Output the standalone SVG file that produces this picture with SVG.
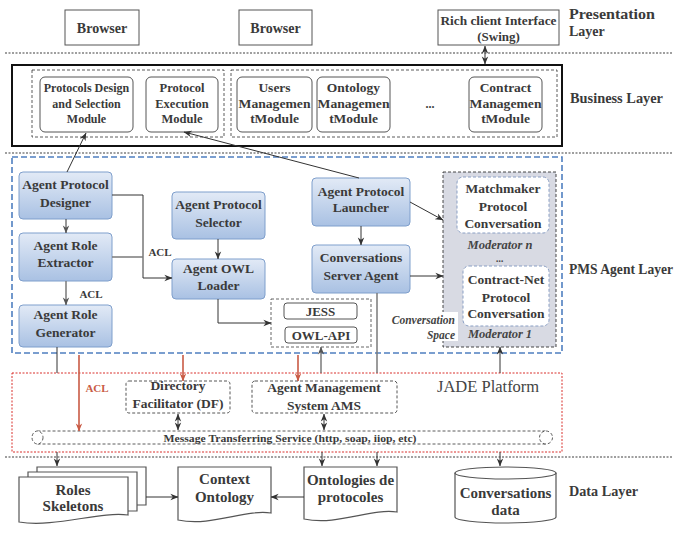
<svg xmlns="http://www.w3.org/2000/svg" width="677" height="534" viewBox="0 0 677 534">
<style>
.t{font-family:"Liberation Serif","Times New Roman",serif;font-weight:bold;fill:#3a3a3a;text-anchor:middle}
.lay{font-family:"Liberation Serif","Times New Roman",serif;font-weight:bold;fill:#3a3a3a;font-size:14px}
.box{fill:#fff;stroke:#555;stroke-width:1}
.mod{fill:#fff;stroke:#555;stroke-width:1}
.agent{fill:url(#bg);stroke:#7f9fcc;stroke-width:1}
.sep{stroke:#808080;stroke-width:1.3;stroke-dasharray:2,1.5;fill:none}
.dash{fill:none;stroke:#333;stroke-width:0.8;stroke-dasharray:3,2}
.ln{fill:none;stroke:#333;stroke-width:1}
.gl{fill:none;stroke:#7a7a7a;stroke-width:1.5}
.rl{fill:none;stroke:#c95b45;stroke-width:1.6}
.it{font-family:"Liberation Serif","Times New Roman",serif;font-weight:bold;font-style:italic;fill:#444;text-anchor:middle}
.doc{fill:#fff;stroke:#555;stroke-width:1.2}
</style>
<defs>
<linearGradient id="bg" x1="0" y1="0" x2="0" y2="1">
<stop offset="0" stop-color="#e2eaf6"/>
<stop offset="1" stop-color="#a9c1e3"/>
</linearGradient>
<marker id="ah" viewBox="0 0 10 10" refX="9.5" refY="5" markerWidth="8" markerHeight="8" markerUnits="userSpaceOnUse" orient="auto-start-reverse"><path d="M0,1 L10,5 L0,9 L3,5 z" fill="#333"/></marker>
<marker id="ahg" viewBox="0 0 10 10" refX="9.5" refY="5" markerWidth="8" markerHeight="8" markerUnits="userSpaceOnUse" orient="auto-start-reverse"><path d="M0,1 L10,5 L0,9 L3,5 z" fill="#555"/></marker>
<marker id="ahr" viewBox="0 0 10 10" refX="9.5" refY="5" markerWidth="8" markerHeight="8" markerUnits="userSpaceOnUse" orient="auto-start-reverse"><path d="M0,1 L10,5 L0,9 L3,5 z" fill="#c95b45"/></marker>
</defs>
<rect width="677" height="534" fill="#fff"/>

<!-- layer separators -->
<g id="separators">
<line class="sep" x1="5" y1="53" x2="672" y2="53"/>
<line class="sep" x1="5" y1="153" x2="672" y2="153"/>
<line class="sep" x1="5" y1="457" x2="672" y2="457"/>
</g>

<!-- layer labels -->
<g id="layer-labels">
<text class="lay" x="569" y="19" textLength="86" lengthAdjust="spacingAndGlyphs">Presentation</text>
<text class="lay" x="569" y="36">Layer</text>
<text class="lay" x="570" y="103" textLength="93" lengthAdjust="spacingAndGlyphs">Business Layer</text>
<text class="lay" x="569" y="274" textLength="104" lengthAdjust="spacingAndGlyphs">PMS Agent Layer</text>
<text class="lay" x="569" y="496" textLength="69" lengthAdjust="spacingAndGlyphs">Data Layer</text>
</g>

<!-- presentation -->
<g id="browser1"><rect class="box" x="65" y="10" width="74" height="35"/><text class="t" x="102" y="33" font-size="14">Browser</text></g>
<g id="browser2"><rect class="box" x="239" y="10" width="73" height="35"/><text class="t" x="275.5" y="33" font-size="14">Browser</text></g>
<g id="rich-client"><rect class="box" x="438" y="10" width="121" height="35"/><text class="t" x="498.5" y="25" font-size="13" textLength="116" lengthAdjust="spacingAndGlyphs">Rich client Interface</text><text class="t" x="498.5" y="41" font-size="13">(Swing)</text></g>

<!-- business layer -->
<g id="business-layer">
<rect x="12" y="65" width="550" height="81" fill="none" stroke="#111" stroke-width="2"/>
<rect class="dash" x="32" y="70" width="192" height="67"/>
<rect class="dash" x="231" y="70" width="326" height="67"/>
<text class="t" x="430" y="108" font-size="12">...</text>
</g>
<g id="mod-protocols-design"><rect class="mod" x="40" y="77" width="93" height="55" rx="5"/><text class="t" x="86.5" y="92" font-size="12">Protocols Design</text><text class="t" x="86.5" y="108" font-size="12">and Selection</text><text class="t" x="86.5" y="123" font-size="12">Module</text></g>
<g id="mod-protocol-execution"><rect class="mod" x="146" y="77" width="72" height="55" rx="5"/><text class="t" x="182" y="92" font-size="12.5">Protocol</text><text class="t" x="182" y="108" font-size="12.5">Execution</text><text class="t" x="182" y="123" font-size="12.5">Module</text></g>
<g id="mod-users"><rect class="mod" x="237" y="77" width="75" height="55" rx="5"/><text class="t" x="274.5" y="92" font-size="13.5">Users</text><text class="t" x="274.5" y="108" font-size="13.5" textLength="72" lengthAdjust="spacingAndGlyphs">Managemen</text><text class="t" x="274.5" y="123" font-size="13.5">tModule</text></g>
<g id="mod-ontology"><rect class="mod" x="317" y="77" width="73" height="55" rx="5"/><text class="t" x="353.5" y="92" font-size="13.5">Ontology</text><text class="t" x="353.5" y="108" font-size="13.5" textLength="72" lengthAdjust="spacingAndGlyphs">Managemen</text><text class="t" x="353.5" y="123" font-size="13.5">tModule</text></g>
<g id="mod-contract"><rect class="mod" x="469" y="77" width="73" height="55" rx="5"/><text class="t" x="505.5" y="92" font-size="13.5">Contract</text><text class="t" x="505.5" y="108" font-size="13.5" textLength="72" lengthAdjust="spacingAndGlyphs">Managemen</text><text class="t" x="505.5" y="123" font-size="13.5">tModule</text></g>

<!-- PMS agent layer -->
<g id="pms-layer">
<rect x="12" y="157" width="550" height="196" fill="none" stroke="#4f7fc0" stroke-width="1.6" stroke-dasharray="6,3"/>
</g>
<g id="conversation-space">
<rect x="443" y="172" width="113" height="175" fill="#d8dae3" stroke="#333" stroke-width="0.9" stroke-dasharray="3,2"/>
<rect x="383" y="312" width="75" height="29" fill="#fff"/>
<text class="it" x="455" y="324" font-size="11.5" style="text-anchor:end">Conversation</text>
<text class="it" x="455" y="339" font-size="11.5" style="text-anchor:end">Space</text>
<text class="it" x="500" y="249" font-size="12.5">Moderator n</text>
<text class="it" x="500" y="262" font-size="10">...</text>
<text class="it" x="500" y="338" font-size="12.5">Moderator 1</text>
</g>
<g id="matchmaker"><rect x="457" y="177" width="92" height="56" rx="6" fill="#fff" stroke="#8a9fc4" stroke-width="1" stroke-dasharray="3,2"/><text class="t" x="503" y="193" font-size="13.5">Matchmaker</text><text class="t" x="503" y="211" font-size="13.5">Protocol</text><text class="t" x="503" y="228" font-size="13.5">Conversation</text></g>
<g id="contract-net"><rect x="463" y="266" width="86" height="60" rx="6" fill="#fff" stroke="#8a9fc4" stroke-width="1" stroke-dasharray="3,2"/><text class="t" x="506" y="284" font-size="13.5">Contract-Net</text><text class="t" x="506" y="302" font-size="13.5">Protocol</text><text class="t" x="506" y="318" font-size="13.5">Conversation</text></g>

<g id="designer"><rect class="agent" x="19" y="172" width="93" height="47" rx="4"/><text class="t" x="65.5" y="189" font-size="13.5">Agent Protocol</text><text class="t" x="65.5" y="207" font-size="13.5">Designer</text></g>
<g id="extractor"><rect class="agent" x="19" y="233" width="93" height="48" rx="4"/><text class="t" x="65.5" y="250" font-size="13.5">Agent Role</text><text class="t" x="65.5" y="267" font-size="13.5">Extractor</text></g>
<g id="generator"><rect class="agent" x="19" y="305" width="93" height="42" rx="4"/><text class="t" x="65.5" y="319" font-size="13.5">Agent Role</text><text class="t" x="65.5" y="337" font-size="13.5">Generator</text></g>
<g id="selector"><rect class="agent" x="172" y="192" width="93" height="47" rx="4"/><text class="t" x="218.5" y="209" font-size="13.5">Agent Protocol</text><text class="t" x="218.5" y="227" font-size="13.5">Selector</text></g>
<g id="owl-loader"><rect class="agent" x="172" y="259" width="93" height="40" rx="4"/><text class="t" x="218.5" y="273" font-size="13.5">Agent OWL</text><text class="t" x="218.5" y="290" font-size="13.5">Loader</text></g>
<g id="launcher"><rect class="agent" x="312" y="178" width="98" height="48" rx="4"/><text class="t" x="361" y="196" font-size="13.5">Agent Protocol</text><text class="t" x="361" y="212" font-size="13.5">Launcher</text></g>
<g id="server-agent"><rect class="agent" x="312" y="245" width="98" height="48" rx="4"/><text class="t" x="361" y="262" font-size="13.5">Conversations</text><text class="t" x="361" y="280" font-size="13.5">Server Agent</text></g>

<g id="libs">
<rect x="271" y="299" width="100" height="48" fill="#fff" stroke="#555" stroke-width="0.9" stroke-dasharray="3,2"/>
<rect x="284" y="303" width="73" height="16" rx="3" fill="#fff" stroke="#555"/>
<text class="t" x="320.5" y="315.5" font-size="13">JESS</text>
<rect x="285" y="327" width="72" height="16" rx="3" fill="#fff" stroke="#555"/>
<text class="t" x="321" y="339.5" font-size="13">OWL-API</text>
</g>

<!-- JADE -->
<g id="jade-platform">
<rect x="12" y="373" width="550" height="79" fill="none" stroke="#d9302c" stroke-width="1" stroke-dasharray="2,1.5"/>
<text x="437" y="392" font-family="'Liberation Serif','Times New Roman',serif" font-size="16.5" fill="#444">JADE Platform</text>
</g>
<g id="df"><rect x="126" y="381" width="104" height="32" rx="3" fill="#fff" stroke="#444" stroke-width="0.9" stroke-dasharray="3,2"/><text class="t" x="178" y="390" font-size="13.5">Directory</text><text class="t" x="178" y="408" font-size="13.5">Facilitator (DF)</text></g>
<g id="ams"><rect x="252" y="381" width="145" height="32" rx="3" fill="#fff" stroke="#444" stroke-width="0.9" stroke-dasharray="3,2"/><text class="t" x="324" y="392" font-size="13.5">Agent Management</text><text class="t" x="324" y="410" font-size="13.5">System AMS</text></g>
<g id="message-bus">
<path d="M37.5,431 H546 M37.5,444 H546" class="dash"/>
<ellipse cx="37.5" cy="437.5" rx="5.5" ry="6.5" fill="#fff" stroke="#333" stroke-width="0.8" stroke-dasharray="3,2"/>
<ellipse cx="546" cy="437.5" rx="6.5" ry="6.5" fill="#fff" stroke="#333" stroke-width="0.8" stroke-dasharray="3,2"/>
<text class="t" x="290" y="442" font-size="10" textLength="253" lengthAdjust="spacingAndGlyphs">Message Transferring Service (http,  soap, iiop, etc)</text>
</g>

<!-- data layer -->
<g id="roles-skeletons">
<path class="doc" d="M37,467 H146 V505 H37 Z"/>
<path class="doc" d="M28,472 H137 V511 H28 Z"/>
<path class="doc" d="M19,477 H128 V515 C100,511 55,528 19,522 Z"/>
<text class="t" x="73" y="495" font-size="15">Roles</text>
<text class="t" x="73" y="511" font-size="15">Skeletons</text>
</g>
<g id="context-ontology">
<path class="doc" d="M178,467 H271 V513 C245,509 212,527 178,520 Z"/>
<text class="t" x="224.5" y="484" font-size="15">Context</text>
<text class="t" x="224.5" y="502" font-size="15">Ontology</text>
</g>
<g id="ontologies-protocoles">
<path class="doc" d="M304,467 H397 V512 C371,508 338,526 304,519 Z"/>
<text class="t" x="350.5" y="485" font-size="15">Ontologies de</text>
<text class="t" x="350.5" y="502" font-size="15">protocoles</text>
</g>
<g id="conversations-data">
<path class="doc" d="M455,473 V517 A50.5,6 0 0 0 556,517 V473"/>
<ellipse cx="505.5" cy="473" rx="50.5" ry="6" class="doc"/>
<text class="t" x="505.5" y="498" font-size="15">Conversations</text>
<text class="t" x="505.5" y="515" font-size="15">data</text>
</g>

<!-- connectors -->
<g id="connectors">
<line class="ln" x1="485" y1="46" x2="485" y2="64" marker-start="url(#ah)" marker-end="url(#ah)"/>
<line class="ln" x1="67" y1="172" x2="86" y2="133" marker-end="url(#ah)"/>
<line class="ln" x1="359" y1="178" x2="184" y2="132" marker-end="url(#ah)"/>
<line class="ln" x1="66" y1="219" x2="66" y2="233" stroke="#555" marker-end="url(#ahg)"/>
<line class="gl" x1="66" y1="281" x2="66" y2="305" marker-end="url(#ahg)"/>
<path class="ln" d="M112,195 H143 V278 H172" marker-end="url(#ah)"/>
<path class="gl" d="M112,257 H143"/>
<line class="ln" x1="218" y1="239" x2="218" y2="259" marker-end="url(#ah)"/>
<path class="ln" d="M218,299 V323 H271" marker-end="url(#ah)"/>
<line class="ln" x1="361" y1="226" x2="361" y2="245" marker-end="url(#ah)"/>
<line class="ln" x1="410" y1="202" x2="443" y2="220" marker-end="url(#ah)"/>
<line class="ln" x1="410" y1="276" x2="443" y2="276" marker-end="url(#ah)"/>
<line class="gl" x1="377" y1="293" x2="377" y2="373"/>
<line class="ln" x1="57" y1="347" x2="57" y2="373"/>
<line class="rl" x1="79" y1="355" x2="79" y2="431" marker-end="url(#ahr)"/>
<line class="rl" x1="183" y1="355" x2="183" y2="381" marker-end="url(#ahr)"/>
<line class="rl" x1="298" y1="355" x2="298" y2="381" marker-end="url(#ahr)"/>
<line class="gl" x1="321" y1="373" x2="321" y2="347" marker-end="url(#ahg)"/>
<line class="ln" x1="500" y1="373" x2="500" y2="347" marker-end="url(#ah)"/>
<line class="ln" x1="178" y1="414" x2="178" y2="430" marker-start="url(#ah)" marker-end="url(#ah)"/>
<line class="ln" x1="324" y1="414" x2="324" y2="430" marker-start="url(#ah)" marker-end="url(#ah)"/>
<line class="ln" x1="57" y1="452" x2="57" y2="466" marker-end="url(#ah)"/>
<line class="ln" x1="322" y1="452" x2="322" y2="466" marker-end="url(#ah)"/>
<line class="ln" x1="377" y1="452" x2="377" y2="466" marker-end="url(#ah)"/>
<line class="ln" x1="500" y1="452" x2="500" y2="466" marker-end="url(#ah)"/>
<line class="ln" x1="146" y1="497" x2="178" y2="497" marker-end="url(#ah)"/>
<line class="ln" x1="304" y1="497" x2="271" y2="497" marker-end="url(#ah)"/>
<text class="t" x="160" y="256" font-size="11">ACL</text>
<text class="t" x="91" y="298" font-size="11">ACL</text>
<text class="t" x="97" y="392" font-size="11" style="fill:#c95b45">ACL</text>
</g>
</svg>
